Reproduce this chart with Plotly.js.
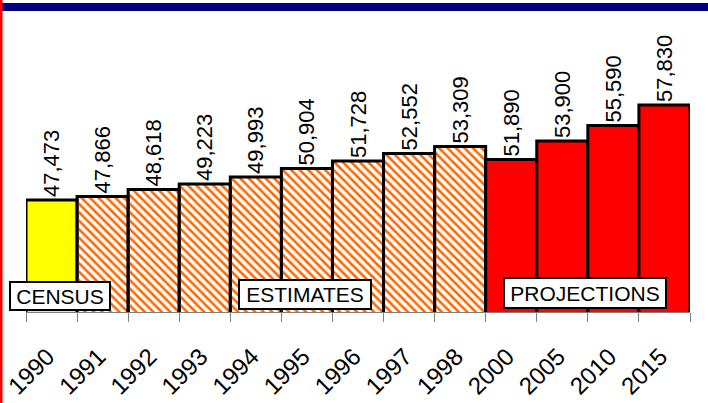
<!DOCTYPE html>
<html>
<head>
<meta charset="utf-8">
<script src="https://cdn.plot.ly/plotly-3.0.1.min.js"></script>
<style>html,body{margin:0;padding:0;background:#fff;}#chart{width:708px;height:403px;}</style>
</head>
<body>
<div id="chart"></div>
<script>
var years = ["1990","1991","1992","1993","1994","1995","1996","1997","1998","2000","2005","2010","2015"];
var population = [47473,47866,48618,49223,49993,50904,51728,52552,53309,51890,53900,55590,57830];
var kinds = ["census","estimate","estimate","estimate","estimate","estimate","estimate","estimate","estimate","projection","projection","projection","projection"];
var groupLabels = ["CENSUS","ESTIMATES","PROJECTIONS"];

var kindColor = {census:"#FFFF00", estimate:"#FF6600", projection:"#FF0000"};
var kindPattern = {census:"", estimate:"\\", projection:""};

var FONT = "Arial, 'Liberation Sans', sans-serif";

var trace = {
  type: "bar",
  x: years,
  y: population,
  text: population.map(function(v){return v.toLocaleString("en-US");}),
  textposition: "outside",
  textangle: -90,
  constraintext: "none",
  textfont: {family: FONT, size: 22, color: "#000"},
  cliponaxis: false,
  width: 1,
  marker: {
    color: kinds.map(function(k){return kindColor[k];}),
    line: {color: "#000", width: 3},
    pattern: {
      shape: kinds.map(function(k){return kindPattern[k];}),
      fgcolor: "#FFFFFF",
      size: 6,
      solidity: 0.42
    }
  },
  hoverinfo: "x+y"
};

var W = 708, H = 403, L = 26, R = 18, T = 15, B = 91;
var pw = W - L - R, ph = H - T - B;
function px(x){return (x - L)/pw;}
function py(y){return (H - B - y)/ph;}

var layout = {
  width: W, height: H,
  margin: {l: L, r: R, t: T, b: B, pad: 0},
  paper_bgcolor: "#fff",
  plot_bgcolor: "#fff",
  showlegend: false,
  bargap: 0,
  font: {family: FONT, size: 21, color: "#000"},
  xaxis: {
    type: "category",
    tickson: "boundaries",
    ticks: "outside",
    ticklen: 9,
    tickcolor: "#808080",
    tickwidth: 1,
    tickangle: -45,
    ticklabelstandoff: 20,
    ticklabelshift: -4,
    tickfont: {family: FONT, size: 24, color: "#000"},
    showline: true,
    linecolor: "#808080",
    linewidth: 1,
    showgrid: false,
    zeroline: false,
    automargin: false
  },
  yaxis: {
    range: [35270, 67640],
    visible: false,
    showgrid: false,
    zeroline: false
  },
  shapes: [
    {type: "rect", xref: "paper", yref: "paper", x0: px(2), x1: px(708), y0: py(11), y1: py(3), fillcolor: "#000080", line: {width: 0}, layer: "above"},
    {type: "rect", xref: "paper", yref: "paper", x0: px(0), x1: px(2.5), y0: py(403), y1: py(0), fillcolor: "#FF0000", line: {width: 0}, layer: "above"}
  ],
  annotations: [
    {text: groupLabels[0], xref: "paper", yref: "paper", x: px(60), y: py(296), xanchor: "center", yanchor: "middle", showarrow: false, width: 96, height: 24, bgcolor: "#fff", bordercolor: "#000", borderwidth: 2, borderpad: 1, font: {family: FONT, size: 21, color: "#000"}},
    {text: groupLabels[1], xref: "paper", yref: "paper", x: px(304.5), y: py(294), xanchor: "center", yanchor: "middle", showarrow: false, width: 128, height: 25, bgcolor: "#fff", bordercolor: "#000", borderwidth: 2, borderpad: 1, font: {family: FONT, size: 21, color: "#000"}},
    {text: groupLabels[2], xref: "paper", yref: "paper", x: px(585), y: py(293), xanchor: "center", yanchor: "middle", showarrow: false, width: 158, height: 26, bgcolor: "#fff", bordercolor: "#000", borderwidth: 2, borderpad: 1, font: {family: FONT, size: 21, color: "#000"}}
  ]
};

Plotly.newPlot("chart", [trace], layout, {displayModeBar: false, staticPlot: true});
</script>
</body>
</html>
